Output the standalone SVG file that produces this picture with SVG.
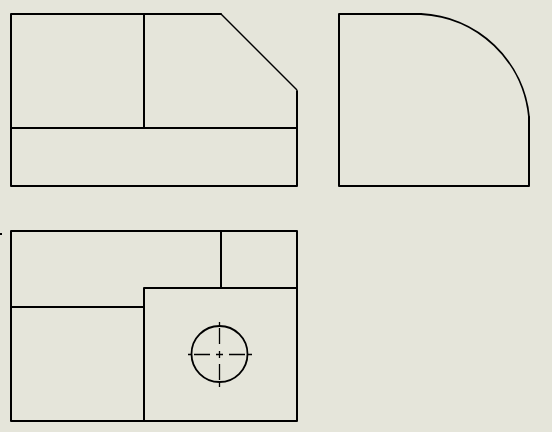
<svg xmlns="http://www.w3.org/2000/svg" width="552" height="432" viewBox="0 0 552 432">
<style>
.e{fill:none;stroke:#000;stroke-width:2;stroke-linecap:round;stroke-linejoin:round}
.d{fill:none;stroke:#000;stroke-width:1.300}
</style>
<rect width="552" height="432" fill="#e5e5da"/>
<g id="front-view">
<path class="e" d="M11 14H221M11 14V186H297V91M144 14V128M11 128H297"/>
<path d="M221 14L297 90" fill="none" stroke="#000" stroke-width="1.4"/>
</g>
<g id="side-view">
<path class="e" d="M421 14H339V186H529V117"/>
<path d="M421 14A114 114 0 0 1 529 117" fill="none" stroke="#000" stroke-width="1.8"/>
</g>
<g id="top-view">
<path class="e" d="M11 231H297V421H11ZM221 231V288M144 288H297M11 307H144M144 288V421"/>
<circle cx="219.500" cy="354" r="28" fill="none" stroke="#000" stroke-width="1.800"/>
<path class="d" d="M188 354.500H192M194 354.500H210M216 354.500H223M229 354.500H245M248 354.500H252M219.500 322V326M219.500 328V344M219.500 351V358M219.500 364V380M219.500 383V387"/>
</g>
<rect x="0" y="233" width="2" height="2" fill="#000"/>
</svg>
